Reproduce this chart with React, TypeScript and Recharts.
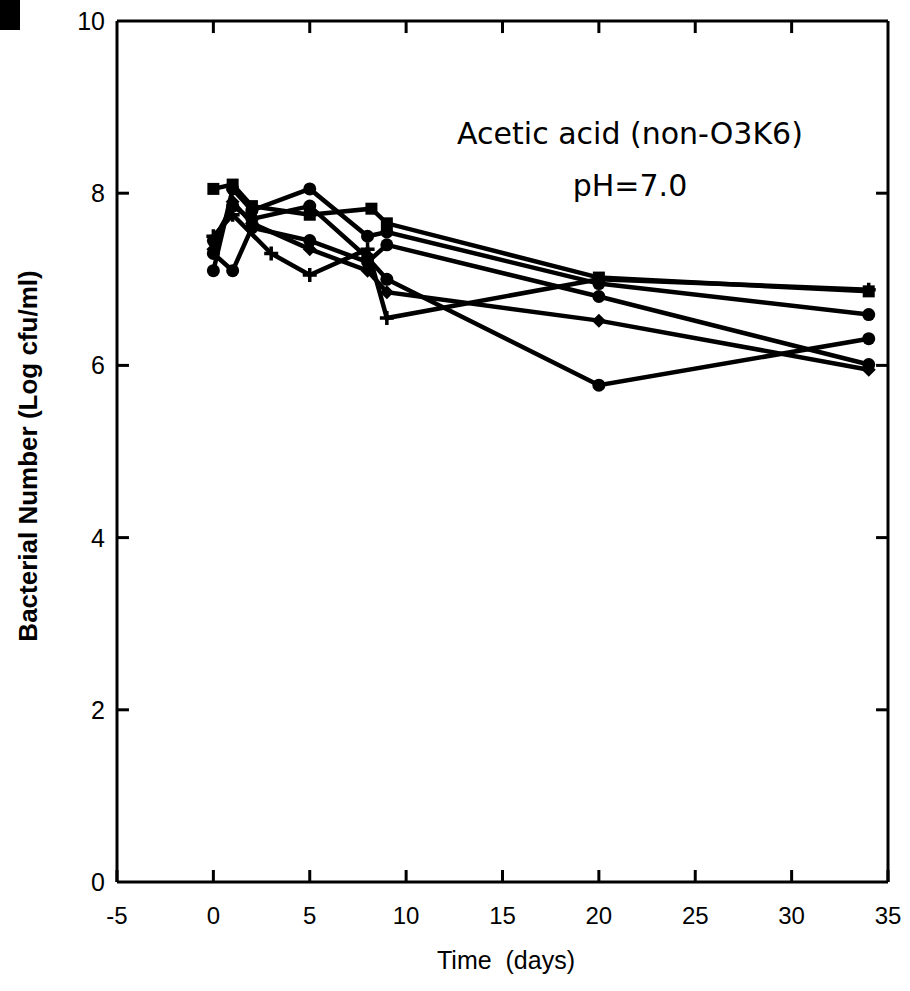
import { LineChart, Line, XAxis, YAxis, ReferenceLine } from 'recharts';

const X_TICKS = [-5, 0, 5, 10, 15, 20, 25, 30, 35];
const Y_TICKS = [0, 2, 4, 6, 8, 10];

// one strain per list, days + log cfu/ml
const SQUARE_DAYS = [0, 1, 2, 5, 8.2, 9, 20, 34];
const SQUARE_LOG = [8.05, 8.1, 7.85, 7.75, 7.82, 7.65, 7.02, 6.86];

const CIRCLE_A_DAYS = [0, 1, 2, 5, 8, 9, 20, 34];
const CIRCLE_A_LOG = [7.1, 8.05, 7.8, 8.05, 7.5, 7.55, 6.95, 6.59];

const CIRCLE_B_DAYS = [0, 1, 2, 5, 8, 9, 20, 34];
const CIRCLE_B_LOG = [7.45, 7.85, 7.7, 7.85, 7.25, 7.0, 5.77, 6.31];

const CIRCLE_C_DAYS = [0, 1, 2, 5, 8, 9, 20, 34];
const CIRCLE_C_LOG = [7.3, 7.1, 7.6, 7.45, 7.2, 7.4, 6.8, 6.01];

const DIAMOND_DAYS = [0, 1, 2, 5, 8, 9, 20, 34];
const DIAMOND_LOG = [7.35, 7.9, 7.65, 7.35, 7.1, 6.85, 6.52, 5.95];

const PLUS_DAYS = [0, 1, 3, 5, 8, 9, 20, 34];
const PLUS_LOG = [7.5, 7.75, 7.3, 7.05, 7.35, 6.55, 7.0, 6.88];

const X_MIN = -5;
const X_MAX = 35;
const Y_MIN = 0;
const Y_MAX = 10;
// inward tick length, in axis units (~12px)
const TICK_DX = 0.62;
const TICK_DY = 0.14;

const toPoints = (days: number[], vals: number[]) =>
  days.map((d, i) => ({ day: d, log: vals[i] }));

const SERIES = [
  { key: 'sq', shape: 'square', data: toPoints(SQUARE_DAYS, SQUARE_LOG) },
  { key: 'ca', shape: 'circle', data: toPoints(CIRCLE_A_DAYS, CIRCLE_A_LOG) },
  { key: 'cb', shape: 'circle', data: toPoints(CIRCLE_B_DAYS, CIRCLE_B_LOG) },
  { key: 'cc', shape: 'circle', data: toPoints(CIRCLE_C_DAYS, CIRCLE_C_LOG) },
  { key: 'di', shape: 'diamond', data: toPoints(DIAMOND_DAYS, DIAMOND_LOG) },
  { key: 'pl', shape: 'plus', data: toPoints(PLUS_DAYS, PLUS_LOG) },
];

const FONT = '"Liberation Sans", Arial, sans-serif';
const NARROW = '"Liberation Sans Narrow", "Liberation Sans", Arial, sans-serif';

function marker(shape: string) {
  return (p: any) => {
    const { cx, cy, index } = p;
    if (cx == null || cy == null) return <g key={index} />;
    if (shape === 'square')
      return <rect key={index} x={cx - 6} y={cy - 6} width={12} height={12} fill="#000" />;
    if (shape === 'diamond')
      return (
        <path key={index} d={`M${cx},${cy - 7}L${cx + 7},${cy}L${cx},${cy + 7}L${cx - 7},${cy}Z`} fill="#000" />
      );
    if (shape === 'plus')
      return (
        <path key={index} d={`M${cx - 7},${cy}H${cx + 7}M${cx},${cy - 7}V${cy + 7}`} stroke="#000" strokeWidth={3.5} />
      );
    return <circle key={index} cx={cx} cy={cy} r={6.5} fill="#000" />;
  };
}

function LeftTick(p: any) {
  const { x, y, payload } = p;
  return (
    <text x={x - 12} y={y} textAnchor="end" dominantBaseline="central" fontSize={25} fontFamily={FONT} fill="#000">
      {payload.value}
    </text>
  );
}

function BottomTick(p: any) {
  const { x, y, payload } = p;
  return (
    <text x={x} y={y + 45} textAnchor="middle" dominantBaseline="central" fontSize={24} fontFamily={NARROW} fill="#000">
      {payload.value}
    </text>
  );
}

const AXIS_LINE = { stroke: '#000', strokeWidth: 3 };
const TICK_LINE = { stroke: '#000', strokeWidth: 3 };

export default function App() {
  return (
    <div style={{ position: 'absolute', left: 0, top: 0, width: 910, height: 991, background: '#fff' }}>
      <div style={{ position: 'absolute', left: 0, top: 0, width: 20, height: 30, background: '#000' }} />
      <LineChart width={910} height={991} margin={{ top: 20, right: 21, bottom: 49, left: 57 }}>
        <XAxis
          xAxisId="b"
          dataKey="day"
          type="number"
          domain={[X_MIN, X_MAX]}
          ticks={X_TICKS}
          allowDataOverflow
          height={60}
          tickSize={-12}
          tickMargin={0}
          tickLine={TICK_LINE}
          tick={<BottomTick />}
          axisLine={AXIS_LINE}
        />
        <XAxis
          xAxisId="t"
          orientation="top"
          dataKey="day"
          type="number"
          domain={[X_MIN, X_MAX]}
          ticks={X_TICKS}
          allowDataOverflow
          height={1}
          tickLine={false}
          tick={false}
          axisLine={AXIS_LINE}
        />
        <YAxis
          yAxisId="l"
          type="number"
          domain={[Y_MIN, Y_MAX]}
          ticks={Y_TICKS}
          width={60}
          tickSize={0}
          tickMargin={0}
          tickLine={false}
          tick={<LeftTick />}
          axisLine={AXIS_LINE}
        />
        <YAxis
          yAxisId="r"
          orientation="right"
          type="number"
          domain={[Y_MIN, Y_MAX]}
          ticks={Y_TICKS}
          width={1}
          tickLine={false}
          tick={false}
          axisLine={AXIS_LINE}
        />
        {Y_TICKS.filter((v) => v > Y_MIN && v < Y_MAX).map((v) => (
          <ReferenceLine
            key={`l${v}`}
            xAxisId="b"
            yAxisId="l"
            segment={[{ x: X_MIN, y: v }, { x: X_MIN + TICK_DX, y: v }]}
            stroke="#000"
            strokeWidth={3}
            ifOverflow="visible"
          />
        ))}
        {Y_TICKS.filter((v) => v > Y_MIN && v < Y_MAX).map((v) => (
          <ReferenceLine
            key={`r${v}`}
            xAxisId="b"
            yAxisId="l"
            segment={[{ x: X_MAX - TICK_DX, y: v }, { x: X_MAX, y: v }]}
            stroke="#000"
            strokeWidth={3}
            ifOverflow="visible"
          />
        ))}
        {X_TICKS.filter((v) => v > X_MIN && v < X_MAX).map((v) => (
          <ReferenceLine
            key={`t${v}`}
            xAxisId="b"
            yAxisId="l"
            segment={[{ x: v, y: Y_MAX }, { x: v, y: Y_MAX - TICK_DY }]}
            stroke="#000"
            strokeWidth={3}
            ifOverflow="visible"
          />
        ))}
        {SERIES.map((s) => (
          <Line
            key={s.key}
            xAxisId="b"
            yAxisId="l"
            data={s.data}
            dataKey="log"
            type="linear"
            stroke="#000"
            strokeWidth={4.5}
            dot={marker(s.shape)}
            activeDot={false}
            isAnimationActive={false}
          />
        ))}
      </LineChart>
      <div
        style={{
          position: 'absolute',
          left: 506,
          top: 960,
          transform: 'translate(-50%, -50%)',
          fontFamily: NARROW,
          fontSize: 25,
          whiteSpace: 'pre',
          color: '#000',
        }}
      >
        {'Time  (days)'}
      </div>
      <div
        style={{
          position: 'absolute',
          left: 28,
          top: 456,
          transform: 'translate(-50%, -50%) rotate(-90deg)',
          fontFamily: FONT,
          fontWeight: 900,
          fontSize: 26,
          whiteSpace: 'nowrap',
          color: '#000',
        }}
      >
        Bacterial Number (Log cfu/ml)
      </div>
      <div
        style={{
          position: 'absolute',
          left: 440,
          top: 108,
          width: 380,
          textAlign: 'center',
          fontFamily: '"DejaVu Sans", sans-serif',
          fontSize: 30,
          lineHeight: '52px',
          color: '#000',
        }}
      >
        Acetic acid (non-O3K6)
        <br />
        pH=7.0
      </div>
    </div>
  );
}
